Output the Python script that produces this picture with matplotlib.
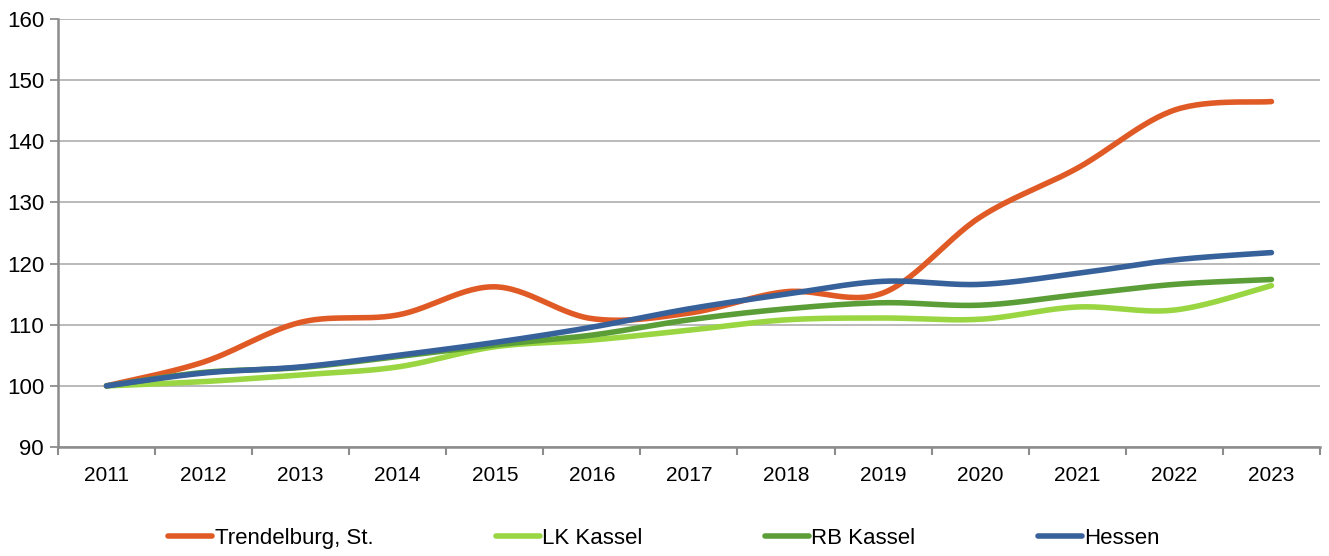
import matplotlib
import numpy as np

matplotlib.use('Agg')
import matplotlib.pyplot as plt

years = ['2011', '2012', '2013', '2014', '2015', '2016', '2017',
         '2018', '2019', '2020', '2021', '2022', '2023']

trendelburg = [100.0, 103.9, 110.4, 111.6, 116.2, 111.0, 111.9,
               115.4, 115.2, 127.6, 135.6, 145.1, 146.5]
lk_kassel = [100.0, 100.7, 101.8, 103.1, 106.4, 107.5, 109.1,
             110.8, 111.1, 110.9, 112.9, 112.4, 116.4]
rb_kassel = [100.0, 102.2, 103.0, 104.8, 106.7, 108.3, 110.8,
             112.6, 113.6, 113.2, 114.9, 116.6, 117.4]
hessen = [100.0, 102.1, 103.1, 105.0, 107.1, 109.6, 112.6,
          115.0, 117.1, 116.6, 118.4, 120.6, 121.8]

series = [
    ('Trendelburg, St.', trendelburg, '#E05A26'),
    ('LK Kassel', lk_kassel, '#99D642'),
    ('RB Kassel', rb_kassel, '#5B9E38'),
    ('Hessen', hessen, '#36619A'),
]


def smooth(x, y, n=30):
    """Excel-like smoothed line (Catmull-Rom via cubic Bezier)."""
    x = np.asarray(x, float)
    y = np.asarray(y, float)
    px = np.concatenate([[x[0]], x, [x[-1]]])
    py = np.concatenate([[y[0]], y, [y[-1]]])
    t = np.linspace(0, 1, n)[:, None]
    xs, ys = [], []
    for i in range(len(x) - 1):
        p0 = np.array([px[i + 1], py[i + 1]])
        p3 = np.array([px[i + 2], py[i + 2]])
        p1 = p0 + (p3 - np.array([px[i], py[i]])) / 6
        p2 = p3 - (np.array([px[i + 3], py[i + 3]]) - p0) / 6
        b = ((1 - t) ** 3) * p0 + 3 * ((1 - t) ** 2) * t * p1 \
            + 3 * (1 - t) * t ** 2 * p2 + t ** 3 * p3
        xs.append(b[:, 0])
        ys.append(b[:, 1])
    return np.concatenate(xs), np.concatenate(ys)


plt.rcParams['font.family'] = ['Liberation Sans', 'DejaVu Sans']

fig = plt.figure(figsize=(13.29, 5.56), dpi=100)
ax = fig.add_axes((0.0436, 0.196, 0.9496, 0.7698))

xpos = np.arange(len(years))
for label, vals, color in series:
    sx, sy = smooth(xpos, vals)
    ax.plot(sx, sy, color=color, lw=4.0, solid_capstyle='round', label=label)

ax.set_xlim(-0.5, len(years) - 0.5)
ax.set_ylim(90, 160)
ax.set_yticks(np.arange(90, 161, 10))
ax.yaxis.grid(True, color='#b4b4b4', lw=1.3)
ax.set_axisbelow(True)

# category axis: tick marks between years, labels centred on years
ax.set_xticks(np.arange(-0.5, len(years), 1.0))
ax.set_xticklabels([])
ax.set_xticks(xpos, minor=True)
ax.set_xticklabels(years, minor=True)
ax.tick_params(axis='x', which='major', length=6, width=1.5, color='#8c8c8c', direction='out')
ax.tick_params(axis='x', which='minor', length=0, pad=14, labelsize=15)
ax.tick_params(axis='y', length=6, width=1.3, color='#8c8c8c', labelsize=16, pad=4)

for s in ['top', 'right']:
    ax.spines[s].set_visible(False)
for s in ['left', 'bottom']:
    ax.spines[s].set_color('#8c8c8c')
    ax.spines[s].set_linewidth(1.8)

leg = fig.legend(loc='center', bbox_to_anchor=(0.4996, 0.032), ncol=4, frameon=False,
                 fontsize=16, handlelength=2.0, handletextpad=0.1, columnspacing=5.5)

fig.savefig('out.png', facecolor='white')
